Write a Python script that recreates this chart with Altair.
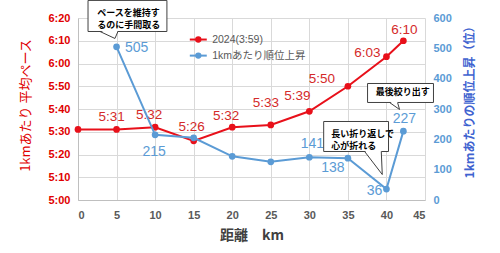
import altair as alt
import pandas as pd

# ---------------- data ----------------
distance = [0, 5, 10, 15, 20, 25, 30, 35, 40, 42.195]
pace_sec = [331, 331, 332, 326, 332, 333, 339, 350, 363, 370]
pace_label = ["", "5:31", "5:32", "5:26", "5:32", "5:33", "5:39", "5:50", "6:03", "6:10"]

rank_distance = [5, 10, 15, 20, 25, 30, 35, 40, 42.195]
rank_gain = [505, 215, 205, 144, 126, 141, 138, 36, 227]
rank_label = ["505", "215", "", "", "", "141", "138", "36", "227"]

series_names = ["2024(3:59)", "1kmあたり順位上昇"]

x_ticks = [0, 5, 10, 15, 20, 25, 30, 35, 40, 45]
pace_ticks = [300, 310, 320, 330, 340, 350, 360, 370, 380]
rank_ticks = [0, 100, 200, 300, 400, 500, 600]

# callouts (data units: km / rank scale)
callout_text = ["ペースを維持す\nるのに手間取る", "最後絞り出す", "長い折り返しで\n心が折れる"]
box_x1 = [1.3, 37.55, 31.86]
box_x2 = [11.53, 46.1, 40.27]
box_y1 = [555.5, 321.5, 159.9]
box_y2 = [658, 384.1, 258.8]
text_x = [2.5, 38.6, 32.85]
text_y = [618, 354.5, 217.6]
tail_base_x1 = [2.85, 40.4, 37.17]
tail_base_x2 = [5.18, 41.44, 39.33]
tail_apex_x = [4.79, 41.7, 39.46]
tail_apex_y = [532.5, 298.4, 84]

# legend placement (data units)
legend_line_x = [14.5, 16.7]
legend_dot_x = 15.6
legend_text_x = 17.4
legend_y = [529, 476]

# label offsets (pixels), keyed by distance
pace_offsets = {5: (-5, -12), 10: (-6, -12), 15: (-2, -14), 20: (-6, -11), 25: (-5, -22),
                30: (-12, -15), 35: (-26, -7), 40: (-19, -4), 42.195: (1, -11)}
rank_offsets = {5: (20, 1), 10: (-1, 17), 30: (3, -13), 35: (-15, 10), 40: (-12, 2), 42.195: (1, -12)}

RED = "#E8101A"
RED_TXT = "#D42A2A"
BLUE = "#5B9BD5"
BLUE_TITLE = "#3F63D0"
GRID = "#D9D9D9"
FONT = "Liberation Sans, Noto Sans CJK JP"
JFONT = "Noto Sans CJK JP"

pace_df = pd.DataFrame({"km": distance, "pace": pace_sec, "label": pace_label})
rank_df = pd.DataFrame({"km": rank_distance, "rank": rank_gain, "label": rank_label})

X = alt.X("km:Q", scale=alt.Scale(domain=[0, 45], nice=False, zero=False),
          axis=alt.Axis(values=x_ticks, title="距離　km", grid=True, gridColor=GRID,
                        domainColor="#BFBFBF", ticks=False, labelPadding=9,
                        labelFont=FONT, labelFontSize=11, labelFontWeight="bold",
                        labelColor="#595959", titleFont=JFONT, titleFontSize=14,
                        titleFontWeight="bold", titleColor="#404040", titleY=35,
                        titleBaseline="middle"))

Y_PACE = alt.Y("pace:Q", scale=alt.Scale(domain=[300, 380], nice=False, zero=False),
               axis=alt.Axis(values=pace_ticks, orient="left", grid=True, gridColor=GRID,
                             domainColor="#BFBFBF", ticks=False, labelPadding=8,
                             labelExpr="floor(datum.value/60) + ':' + (datum.value % 60 < 10 ? '0' : '') + (datum.value % 60)",
                             labelFont=FONT, labelFontSize=11, labelFontWeight="bold",
                             labelColor="#E00000", title="1kmあたり 平均ペース",
                             titleFont=JFONT, titleFontSize=13, titleFontWeight="normal",
                             titleColor="#E00000", titleAngle=270, titleX=-53, titleY=87,
                             titleAlign="center", titleBaseline="middle"))

Y_RANK = alt.Y("rank:Q", scale=alt.Scale(domain=[0, 600], nice=False),
               axis=alt.Axis(values=rank_ticks, orient="right", grid=False, domain=False,
                             ticks=False, labelPadding=8, labelFont=FONT, labelFontSize=11,
                             labelFontWeight="bold", labelColor=BLUE,
                             title="1kmあたりの順位上昇（位）", titleFont=JFONT,
                             titleFontSize=12, titleFontWeight="bold", titleColor=BLUE_TITLE,
                             titleAngle=270, titleX=44, titleY=81, titleAlign="center",
                             titleBaseline="middle"))

# ---------------- pace group ----------------
pace_base = alt.Chart(pace_df)
pace_layers = [
    pace_base.mark_line(color=RED, strokeWidth=2).encode(x=X, y=Y_PACE),
    pace_base.mark_point(filled=True, size=45, color=RED, opacity=1).encode(x=X, y=Y_PACE),
]
for d, (dx, dy) in pace_offsets.items():
    pace_layers.append(
        pace_base.transform_filter(alt.datum.km == d)
        .mark_text(font=FONT, fontSize=13.5, color=RED_TXT, dx=dx, dy=dy)
        .encode(x=X, y=Y_PACE, text="label:N")
    )
pace_group = alt.layer(*pace_layers)

# ---------------- rank group ----------------
rank_base = alt.Chart(rank_df)
rank_layers = [
    rank_base.mark_line(color=BLUE, strokeWidth=2).encode(x=X, y=Y_RANK),
    rank_base.mark_point(filled=True, size=45, color=BLUE, opacity=1).encode(x=X, y=Y_RANK),
]
for d, (dx, dy) in rank_offsets.items():
    rank_layers.append(
        rank_base.transform_filter(alt.datum.km == d)
        .mark_text(font=FONT, fontSize=14, color=BLUE, dx=dx, dy=dy)
        .encode(x=X, y=Y_RANK, text="label:N")
    )

# callouts
box_df = pd.DataFrame({"km": box_x1, "km2": box_x2, "rank": box_y1, "rank2": box_y2})
rank_layers.append(
    alt.Chart(box_df).mark_rect(fill="white", stroke="#404040", strokeWidth=1)
    .encode(x=X, x2="km2:Q", y=Y_RANK, y2="rank2:Q")
)
tail_rows = []
side_rows = []
for i in range(len(callout_text)):
    tail_rows.append({"id": i, "rank": box_y1[i] + 4, "km": tail_base_x1[i], "km2": tail_base_x2[i]})
    tail_rows.append({"id": i, "rank": tail_apex_y[i], "km": tail_apex_x[i], "km2": tail_apex_x[i]})
    side_rows.append({"km": tail_base_x1[i], "rank": box_y1[i], "km2": tail_apex_x[i], "rank2": tail_apex_y[i]})
    side_rows.append({"km": tail_base_x2[i], "rank": box_y1[i], "km2": tail_apex_x[i], "rank2": tail_apex_y[i]})
rank_layers.append(
    alt.Chart(pd.DataFrame(tail_rows)).mark_area(orient="horizontal", fill="white", opacity=1)
    .encode(y=Y_RANK, x=X, x2="km2:Q", detail="id:N")
)
rank_layers.append(
    alt.Chart(pd.DataFrame(side_rows)).mark_rule(color="#404040", strokeWidth=1)
    .encode(x=X, x2="km2:Q", y=Y_RANK, y2="rank2:Q")
)
text_df = pd.DataFrame({"km": text_x, "rank": text_y, "t": callout_text})
rank_layers.append(
    alt.Chart(text_df).mark_text(font=JFONT, fontSize=9, fontWeight="bold", color="black",
                                 lineBreak="\n", lineHeight=12, baseline="middle",
                                 align="left")
    .encode(x=X, y=Y_RANK, text="t:N")
)

# legend
leg_line = pd.DataFrame({"km": [legend_line_x[0]] * 2, "km2": [legend_line_x[1]] * 2,
                         "rank": legend_y, "s": series_names})
leg_dot = pd.DataFrame({"km": [legend_dot_x] * 2, "rank": legend_y, "s": series_names})
leg_txt = pd.DataFrame({"km": [legend_text_x] * 2, "rank": legend_y, "s": series_names})
col = alt.Color("s:N", scale=alt.Scale(domain=series_names, range=[RED, BLUE]), legend=None)
rank_layers.append(
    alt.Chart(leg_line).mark_rule(strokeWidth=2).encode(x=X, x2="km2:Q", y=Y_RANK, color=col)
)
rank_layers.append(
    alt.Chart(leg_dot).mark_point(filled=True, size=40, opacity=1).encode(x=X, y=Y_RANK, color=col)
)
rank_layers.append(
    alt.Chart(leg_txt).mark_text(font=FONT, fontSize=10.5, color="#595959", align="left",
                                 baseline="middle")
    .encode(x=X, y=Y_RANK, text="s:N")
)
rank_group = alt.layer(*rank_layers)

chart = (
    alt.layer(pace_group, rank_group)
    .resolve_scale(y="independent")
    .properties(width=347, height=182,
                autosize=alt.AutoSizeParams(type="none"),
                padding={"left": 78, "top": 18, "right": 75, "bottom": 53},
                background="white")
    .configure_view(stroke=None)
)

chart.save("out.html", embed_options={"renderer": "svg", "actions": False})
